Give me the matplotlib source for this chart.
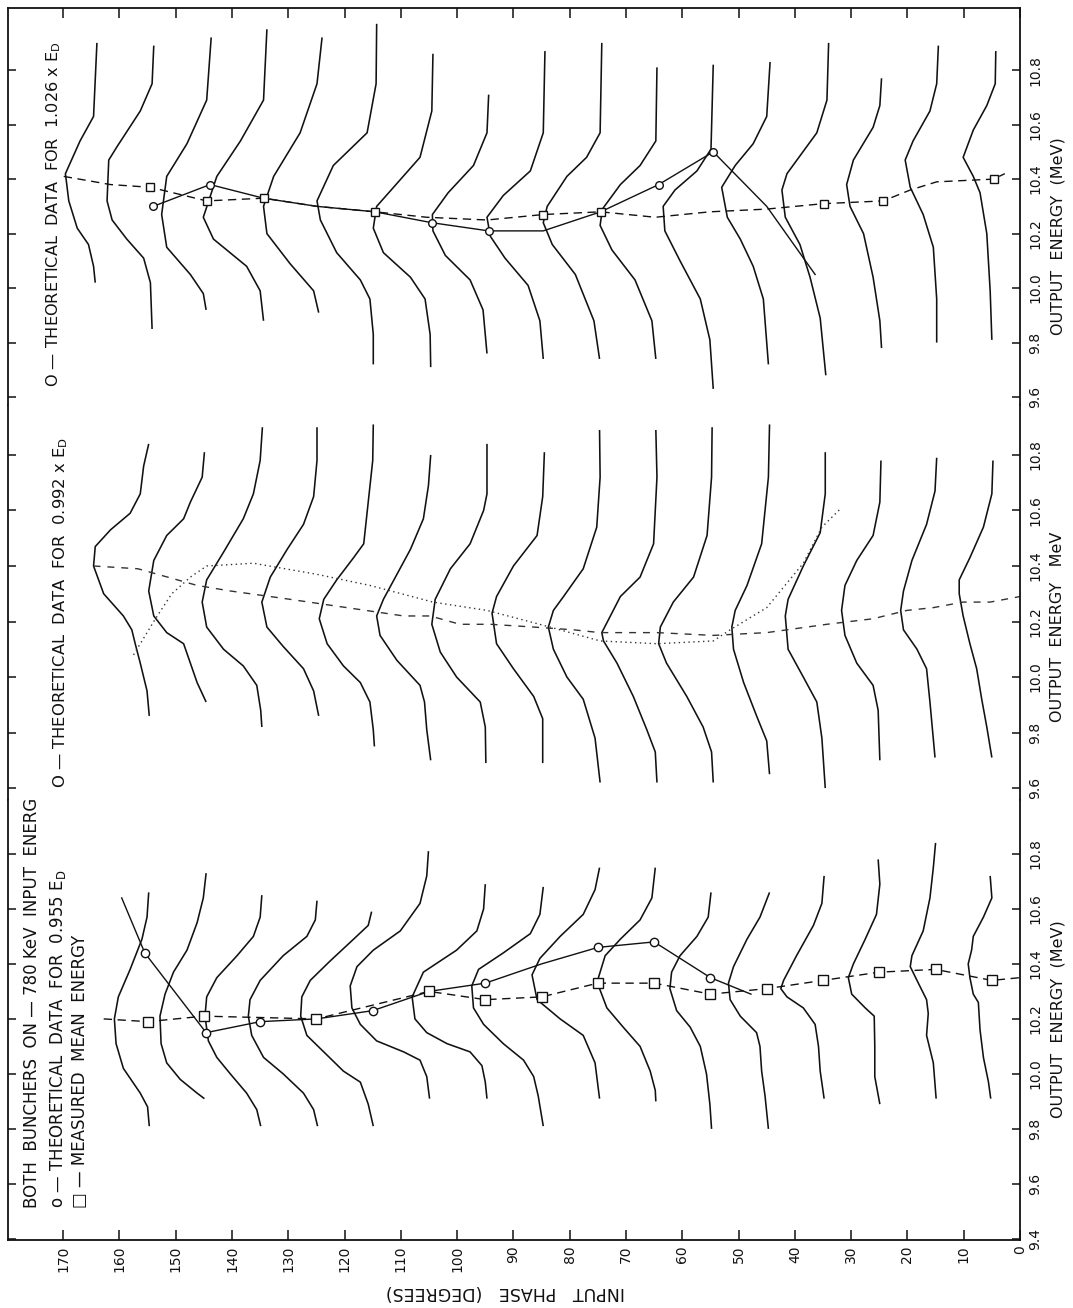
import matplotlib
matplotlib.use("Agg")
import matplotlib.pyplot as plt
import numpy as np

plt.rcParams['font.family'] = ['DejaVu Sans']

# ---------------- axes values ----------------
phase_ticks = list(range(0, 171, 10))
energy_ticks_top = [9.6, 9.8, 10.0, 10.2, 10.4, 10.6, 10.8]
energy_ticks_bot = [9.4, 9.6, 9.8, 10.0, 10.2, 10.4, 10.6, 10.8]

# ---------------- bottom panel (0.955 E_D) : energy curves ----------------
b01_phase = [154.8, 155.1, 156.0, 158.1, 160.2, 160.9, 160.6, 159.3, 156.3, 155.0, 154.7]
b01_energy = [10.66, 10.57, 10.49, 10.38, 10.28, 10.20, 10.11, 10.02, 9.93, 9.88, 9.81]
b02_phase = [144.6, 145.1, 146.2, 148.0, 150.4, 151.9, 152.8, 152.6, 151.6, 149.2, 146.2, 144.9]
b02_energy = [10.73, 10.64, 10.55, 10.45, 10.37, 10.29, 10.21, 10.11, 10.04, 9.98, 9.93, 9.91]
b03_phase = [134.7, 135.0, 136.2, 139.1, 142.7, 144.5, 144.8, 144.2, 142.7, 140.3, 137.4, 135.6, 134.9]
b03_energy = [10.65, 10.57, 10.50, 10.43, 10.35, 10.28, 10.21, 10.12, 10.06, 10.00, 9.93, 9.87, 9.81]
b04_phase = [124.9, 125.2, 126.7, 130.9, 135.0, 136.8, 137.1, 136.5, 134.4, 130.9, 127.3, 125.5, 124.8]
b04_energy = [10.63, 10.56, 10.50, 10.43, 10.34, 10.27, 10.21, 10.14, 10.06, 10.00, 9.93, 9.87, 9.81]
b05_phase = [115.2, 115.8, 118.4, 122.6, 126.1, 127.6, 127.8, 126.7, 123.7, 120.2, 117.2, 115.8, 114.9]
b05_energy = [10.59, 10.54, 10.49, 10.41, 10.34, 10.28, 10.21, 10.14, 10.08, 10.01, 9.97, 9.89, 9.81]
b06_phase = [105.1, 105.4, 106.6, 110.1, 114.9, 117.8, 119.0, 118.7, 117.2, 114.3, 109.5, 106.6, 105.4, 104.9]
b06_energy = [10.81, 10.72, 10.62, 10.52, 10.45, 10.39, 10.32, 10.24, 10.18, 10.12, 10.08, 10.05, 9.99, 9.91]
b07_phase = [95.0, 95.3, 96.5, 100.1, 106.0, 108.0, 107.5, 105.4, 101.8, 97.7, 95.6, 95.0, 94.7]
b07_energy = [10.69, 10.60, 10.52, 10.45, 10.37, 10.28, 10.20, 10.15, 10.11, 10.08, 10.03, 9.97, 9.91]
b08_phase = [84.7, 85.3, 87.0, 91.8, 96.2, 97.4, 97.1, 95.3, 91.8, 88.2, 86.4, 85.6, 84.7]
b08_energy = [10.68, 10.58, 10.51, 10.44, 10.38, 10.32, 10.24, 10.18, 10.11, 10.05, 9.99, 9.92, 9.81]
b09_phase = [74.7, 75.5, 77.6, 81.7, 85.3, 86.7, 85.8, 81.7, 77.6, 75.5, 74.7]
b09_energy = [10.75, 10.67, 10.58, 10.50, 10.42, 10.36, 10.27, 10.20, 10.14, 10.04, 9.91]
b10_phase = [64.8, 65.4, 67.5, 71.0, 73.7, 74.9, 74.7, 73.4, 70.5, 67.5, 65.7, 64.8, 64.7]
b10_energy = [10.75, 10.64, 10.56, 10.49, 10.43, 10.35, 10.31, 10.24, 10.17, 10.10, 10.01, 9.94, 9.90]
b11_phase = [54.9, 55.4, 57.4, 60.4, 61.9, 62.2, 61.0, 58.6, 56.8, 55.7, 55.1, 54.8]
b11_energy = [10.66, 10.57, 10.50, 10.43, 10.37, 10.31, 10.23, 10.17, 10.10, 10.00, 9.89, 9.80]
b12_phase = [44.5, 46.2, 48.5, 50.9, 51.8, 51.5, 49.7, 46.8, 46.2, 45.9, 45.3, 44.7]
b12_energy = [10.66, 10.57, 10.49, 10.39, 10.33, 10.27, 10.21, 10.15, 10.10, 10.01, 9.92, 9.80]
b13_phase = [34.8, 35.2, 36.7, 39.7, 42.0, 42.5, 41.4, 38.5, 36.4, 35.8, 35.5, 34.8]
b13_energy = [10.72, 10.62, 10.54, 10.43, 10.34, 10.31, 10.28, 10.24, 10.18, 10.10, 10.01, 9.91]
b14_phase = [25.2, 24.9, 25.5, 27.5, 29.6, 30.5, 29.9, 27.5, 25.9, 25.8, 25.8, 24.9]
b14_energy = [10.78, 10.69, 10.58, 10.49, 10.40, 10.35, 10.29, 10.24, 10.21, 10.10, 9.99, 9.89]
b15_phase = [15.0, 15.4, 16.0, 17.2, 19.2, 19.5, 18.3, 16.6, 16.3, 16.6, 15.4, 14.9]
b15_energy = [10.84, 10.75, 10.64, 10.52, 10.43, 10.39, 10.34, 10.27, 10.22, 10.14, 10.04, 9.91]
b16_phase = [5.3, 5.0, 6.5, 8.3, 8.6, 9.2, 8.9, 8.3, 7.4, 7.1, 6.5, 5.6, 5.2]
b16_energy = [10.72, 10.64, 10.57, 10.50, 10.45, 10.40, 10.35, 10.29, 10.26, 10.16, 10.06, 9.97, 9.91]

# bottom panel: theoretical mean (circles) and measured mean (squares)
bot_theory_phase = [159.6, 155.5, 144.6, 135.0, 125.0, 115.0, 105.0, 95.0, 85.0, 75.0, 65.0, 55.0, 47.8]
bot_theory_energy = [10.64, 10.44, 10.15, 10.19, 10.20, 10.23, 10.30, 10.33, 10.40, 10.46, 10.48, 10.35, 10.29]
bot_theory_marked = [155.5, 144.6, 135.0, 115.0, 95.0, 75.0, 65.0, 55.0]
bot_meas_phase = [162.8, 155.0, 145.0, 125.0, 105.0, 95.0, 85.0, 75.0, 65.0, 55.0, 45.0, 35.0, 25.0, 15.0, 5.0, 0.0]
bot_meas_energy = [10.20, 10.19, 10.21, 10.20, 10.30, 10.27, 10.28, 10.33, 10.33, 10.29, 10.31, 10.34, 10.37, 10.38, 10.34, 10.35]

# ---------------- middle panel (0.992 E_D) ----------------
m01_phase = [154.8, 155.7, 156.3, 158.1, 161.6, 164.3, 164.6, 162.8, 159.3, 157.8, 157.2, 156.3, 155.1, 154.7]
m01_energy = [10.84, 10.76, 10.66, 10.59, 10.53, 10.47, 10.40, 10.30, 10.22, 10.17, 10.12, 10.05, 9.95, 9.86]
m02_phase = [144.9, 145.3, 147.4, 148.6, 151.6, 153.9, 154.8, 153.9, 151.6, 148.6, 147.4, 146.2, 144.6]
m02_energy = [10.81, 10.72, 10.63, 10.57, 10.51, 10.42, 10.31, 10.22, 10.16, 10.12, 10.05, 9.98, 9.91]
m03_phase = [134.6, 135.0, 136.2, 138.0, 141.5, 144.5, 145.3, 144.5, 141.5, 138.0, 135.6, 134.9, 134.7]
m03_energy = [10.90, 10.78, 10.66, 10.57, 10.45, 10.35, 10.27, 10.18, 10.10, 10.04, 9.97, 9.88, 9.82]
m04_phase = [124.9, 124.9, 125.5, 127.3, 130.2, 133.2, 134.7, 133.8, 130.9, 127.3, 125.5, 124.6]
m04_energy = [10.90, 10.78, 10.65, 10.55, 10.46, 10.36, 10.27, 10.18, 10.11, 10.03, 9.95, 9.86]
m05_phase = [114.9, 115.0, 115.8, 116.6, 118.4, 121.4, 123.7, 124.5, 123.1, 120.2, 117.2, 115.5, 114.9, 114.7]
m05_energy = [10.91, 10.78, 10.63, 10.48, 10.43, 10.35, 10.28, 10.21, 10.12, 10.04, 9.98, 9.91, 9.81, 9.75]
m06_phase = [104.7, 105.1, 106.0, 108.3, 110.7, 113.1, 114.3, 113.7, 110.7, 106.6, 105.8, 105.4, 104.7]
m06_energy = [10.80, 10.69, 10.57, 10.46, 10.37, 10.28, 10.22, 10.15, 10.06, 9.97, 9.91, 9.81, 9.70]
m07_phase = [94.7, 94.7, 95.3, 97.7, 101.2, 103.9, 104.5, 103.0, 100.1, 95.9, 95.0, 94.9]
m07_energy = [10.84, 10.66, 10.60, 10.48, 10.39, 10.28, 10.19, 10.09, 10.00, 9.91, 9.82, 9.69]
m08_phase = [84.5, 84.8, 85.8, 90.0, 93.0, 93.8, 93.0, 90.0, 86.4, 84.8, 84.8]
m08_energy = [10.81, 10.65, 10.51, 10.40, 10.29, 10.23, 10.12, 10.03, 9.93, 9.85, 9.69]
m09_phase = [74.7, 74.6, 75.2, 77.6, 81.1, 82.9, 83.8, 82.9, 80.5, 77.6, 75.5, 74.6]
m09_energy = [10.89, 10.72, 10.54, 10.39, 10.29, 10.24, 10.18, 10.10, 10.00, 9.92, 9.78, 9.62]
m10_phase = [64.7, 64.5, 65.1, 67.5, 71.0, 74.3, 74.0, 71.6, 68.7, 66.3, 64.8, 64.5]
m10_energy = [10.89, 10.72, 10.48, 10.36, 10.29, 10.16, 10.13, 10.05, 9.93, 9.81, 9.73, 9.62]
m11_phase = [54.7, 54.8, 55.6, 58.0, 61.6, 63.9, 64.2, 62.8, 59.2, 56.3, 54.8, 54.5]
m11_energy = [10.90, 10.72, 10.51, 10.36, 10.27, 10.18, 10.12, 10.05, 9.93, 9.82, 9.73, 9.62]
m12_phase = [44.5, 44.7, 45.9, 48.5, 50.6, 51.2, 50.9, 49.1, 46.8, 45.0, 44.5]
m12_energy = [10.91, 10.72, 10.48, 10.33, 10.24, 10.18, 10.10, 9.98, 9.86, 9.77, 9.65]
m13_phase = [34.6, 34.6, 35.5, 38.5, 41.2, 41.7, 41.2, 38.5, 36.1, 35.2, 34.6]
m13_energy = [10.81, 10.66, 10.52, 10.40, 10.28, 10.22, 10.10, 10.00, 9.91, 9.78, 9.60]
m14_phase = [24.7, 24.9, 26.1, 29.0, 31.1, 31.7, 31.1, 29.0, 26.1, 25.2, 24.9]
m14_energy = [10.78, 10.63, 10.51, 10.42, 10.33, 10.24, 10.15, 10.05, 9.97, 9.88, 9.70]
m15_phase = [14.8, 15.1, 16.6, 19.2, 20.7, 21.2, 20.7, 18.3, 16.6, 16.0, 15.1]
m15_energy = [10.79, 10.67, 10.55, 10.42, 10.31, 10.24, 10.17, 10.10, 10.03, 9.91, 9.71]
m16_phase = [4.8, 5.0, 6.5, 8.9, 10.8, 10.8, 10.1, 8.9, 7.7, 6.8, 5.9, 5.0]
m16_energy = [10.78, 10.66, 10.54, 10.43, 10.35, 10.30, 10.22, 10.12, 10.03, 9.92, 9.82, 9.71]

mid_meas_phase = [164.6, 156.7, 146.2, 140.3, 129.7, 119.6, 109.5, 104.8, 99.5, 94.1, 86.4, 79.3,
                  74.6, 64.5, 54.5, 45.0, 34.3, 26.1, 20.1, 15.4, 10.1, 5.3, 0.0]
mid_meas_energy = [10.40, 10.39, 10.33, 10.31, 10.28, 10.25, 10.22, 10.22, 10.19, 10.19, 10.18, 10.17,
                   10.16, 10.16, 10.15, 10.16, 10.19, 10.21, 10.24, 10.25, 10.27, 10.27, 10.29]
mid_theory_phase = [157.5, 153.6, 150.7, 147.4, 144.5, 136.2, 124.9, 115.5, 104.3, 94.7, 83.5, 74.6,
                    64.5, 54.5, 51.5, 45.0, 38.5, 35.2, 31.7]
mid_theory_energy = [10.08, 10.21, 10.30, 10.36, 10.40, 10.41, 10.37, 10.33, 10.27, 10.24, 10.18, 10.13,
                     10.12, 10.13, 10.17, 10.25, 10.41, 10.54, 10.61]

# ---------------- top panel (1.026 E_D) ----------------
t01_phase = [164.0, 164.6, 167.0, 169.6, 169.0, 167.5, 165.5, 164.6, 164.3]
t01_energy = [10.90, 10.63, 10.54, 10.42, 10.32, 10.22, 10.16, 10.08, 10.02]
t02_phase = [153.9, 154.2, 156.3, 160.4, 161.9, 162.2, 161.3, 158.7, 155.7, 154.5, 154.2]
t02_energy = [10.89, 10.75, 10.65, 10.52, 10.47, 10.32, 10.25, 10.18, 10.11, 10.02, 9.85]
t03_phase = [143.7, 144.5, 148.0, 151.6, 152.5, 151.6, 147.4, 145.1, 144.6]
t03_energy = [10.92, 10.69, 10.53, 10.41, 10.27, 10.15, 10.05, 9.98, 9.92]
t04_phase = [133.8, 134.4, 138.5, 142.7, 145.1, 143.3, 137.4, 135.0, 134.4]
t04_energy = [10.95, 10.69, 10.54, 10.41, 10.26, 10.18, 10.08, 9.99, 9.88]
t05_phase = [124.0, 124.9, 127.9, 132.6, 134.4, 133.8, 129.7, 125.5, 124.6]
t05_energy = [10.92, 10.75, 10.57, 10.41, 10.30, 10.20, 10.09, 9.99, 9.91]
t06_phase = [114.3, 114.4, 116.0, 122.0, 124.9, 124.3, 121.4, 117.2, 115.5, 114.9, 114.9]
t06_energy = [10.97, 10.75, 10.57, 10.45, 10.32, 10.25, 10.13, 10.03, 9.96, 9.83, 9.72]
t07_phase = [104.3, 104.5, 106.6, 111.3, 114.3, 114.9, 113.1, 108.3, 105.7, 104.8, 104.7]
t07_energy = [10.86, 10.65, 10.48, 10.37, 10.30, 10.22, 10.13, 10.04, 9.96, 9.83, 9.71]
t08_phase = [94.4, 94.7, 97.1, 101.6, 104.4, 104.3, 102.1, 97.7, 95.4, 94.7]
t08_energy = [10.71, 10.57, 10.45, 10.35, 10.27, 10.21, 10.12, 10.03, 9.92, 9.76]
t09_phase = [84.4, 84.7, 87.0, 91.8, 94.7, 94.1, 91.5, 87.4, 85.3, 84.7]
t09_energy = [10.87, 10.57, 10.43, 10.34, 10.26, 10.19, 10.11, 10.01, 9.88, 9.74]
t10_phase = [74.3, 74.6, 77.0, 80.5, 84.0, 84.7, 83.1, 79.0, 75.7, 74.7]
t10_energy = [10.90, 10.57, 10.48, 10.41, 10.30, 10.24, 10.16, 10.05, 9.88, 9.74]
t11_phase = [64.5, 64.7, 67.5, 71.0, 74.2, 74.6, 72.5, 68.4, 65.4, 64.7]
t11_energy = [10.81, 10.54, 10.45, 10.38, 10.29, 10.23, 10.14, 10.03, 9.88, 9.74]
t12_phase = [54.5, 54.9, 57.4, 61.3, 63.4, 63.1, 60.4, 56.8, 55.1, 54.5]
t12_energy = [10.82, 10.51, 10.43, 10.36, 10.30, 10.21, 10.10, 9.96, 9.81, 9.63]
t13_phase = [44.4, 45.0, 47.4, 50.6, 53.0, 52.0, 49.7, 47.4, 45.6, 44.7]
t13_energy = [10.83, 10.63, 10.53, 10.45, 10.37, 10.26, 10.18, 10.08, 9.96, 9.72]
t14_phase = [34.0, 34.3, 36.1, 41.4, 42.3, 41.7, 39.1, 37.3, 35.5, 34.5]
t14_energy = [10.90, 10.69, 10.57, 10.42, 10.36, 10.26, 10.16, 10.04, 9.89, 9.68]
t15_phase = [24.6, 24.9, 26.1, 29.6, 30.8, 30.2, 27.8, 26.1, 24.9, 24.6]
t15_energy = [10.77, 10.67, 10.59, 10.47, 10.38, 10.30, 10.20, 10.04, 9.88, 9.78]
t16_phase = [14.5, 14.8, 16.0, 19.0, 20.4, 19.5, 17.2, 15.4, 14.8, 14.8]
t16_energy = [10.89, 10.75, 10.65, 10.54, 10.47, 10.37, 10.27, 10.15, 9.96, 9.80]
t17_phase = [4.3, 4.4, 5.9, 8.3, 10.1, 8.3, 7.1, 5.9, 5.3, 5.0]
t17_energy = [10.87, 10.75, 10.67, 10.58, 10.48, 10.41, 10.35, 10.20, 9.99, 9.81]

top_meas_phase = [169.9, 161.6, 154.5, 144.5, 134.4, 124.9, 114.6, 105.4, 94.7, 84.7, 74.5, 64.8,
                  55.1, 45.0, 34.9, 24.3, 19.5, 14.8, 4.7, 2.7]
top_meas_energy = [10.41, 10.38, 10.37, 10.32, 10.33, 10.30, 10.28, 10.26, 10.25, 10.27, 10.28, 10.26,
                   10.28, 10.29, 10.31, 10.32, 10.36, 10.39, 10.40, 10.42]
top_meas_marked = [154.5, 144.5, 134.4, 114.6, 84.7, 74.5, 34.9, 24.3, 4.7]
top_theory_phase = [154.0, 143.9, 134.4, 124.9, 114.6, 104.5, 94.4, 84.7, 74.5, 64.2, 54.5, 45.0, 36.4]
top_theory_energy = [10.30, 10.38, 10.33, 10.30, 10.28, 10.24, 10.21, 10.21, 10.28, 10.38, 10.50, 10.30, 10.05]
top_theory_marked = [154.0, 143.9, 104.5, 94.4, 64.2, 54.5]

bottom_curves = [(b01_phase, b01_energy), (b02_phase, b02_energy), (b03_phase, b03_energy),
                 (b04_phase, b04_energy), (b05_phase, b05_energy), (b06_phase, b06_energy),
                 (b07_phase, b07_energy), (b08_phase, b08_energy), (b09_phase, b09_energy),
                 (b10_phase, b10_energy), (b11_phase, b11_energy), (b12_phase, b12_energy),
                 (b13_phase, b13_energy), (b14_phase, b14_energy), (b15_phase, b15_energy),
                 (b16_phase, b16_energy)]
middle_curves = [(m01_phase, m01_energy), (m02_phase, m02_energy), (m03_phase, m03_energy),
                 (m04_phase, m04_energy), (m05_phase, m05_energy), (m06_phase, m06_energy),
                 (m07_phase, m07_energy), (m08_phase, m08_energy), (m09_phase, m09_energy),
                 (m10_phase, m10_energy), (m11_phase, m11_energy), (m12_phase, m12_energy),
                 (m13_phase, m13_energy), (m14_phase, m14_energy), (m15_phase, m15_energy),
                 (m16_phase, m16_energy)]
top_curves = [(t01_phase, t01_energy), (t02_phase, t02_energy), (t03_phase, t03_energy),
              (t04_phase, t04_energy), (t05_phase, t05_energy), (t06_phase, t06_energy),
              (t07_phase, t07_energy), (t08_phase, t08_energy), (t09_phase, t09_energy),
              (t10_phase, t10_energy), (t11_phase, t11_energy), (t12_phase, t12_energy),
              (t13_phase, t13_energy), (t14_phase, t14_energy), (t15_phase, t15_energy),
              (t16_phase, t16_energy), (t17_phase, t17_energy)]

# ---------------- figure ----------------
W, H = 1073, 1308
fig = plt.figure(figsize=(W / 100, H / 100), dpi=100)
fig.patch.set_facecolor('white')


def rect(x0, y0, x1, y1):
    return [x0 / W, 1 - y1 / H, (x1 - x0) / W, (y1 - y0) / H]


ax_top = fig.add_axes(rect(8, 8, 1020, 405))
ax_mid = fig.add_axes(rect(8, 405, 1020, 800))
ax_bot = fig.add_axes(rect(8, 800, 1020, 1240))

ax_top.set_ylim(9.571, 11.028)
ax_mid.set_ylim(9.557, 10.98)
ax_bot.set_ylim(9.396, 10.996)

INK = '#111111'

for ax, eticks in ((ax_top, energy_ticks_top), (ax_mid, energy_ticks_top), (ax_bot, energy_ticks_bot)):
    ax.set_xlim(179.8, 0)
    ax.set_facecolor('white')
    ax.set_xticks(phase_ticks)
    ax.set_yticks(eticks)
    ax.set_yticklabels(['%.1f' % e for e in eticks])
    ax.tick_params(axis='y', direction='in', length=6, width=1.1, left=True, right=True,
                   labelleft=False, labelright=True, labelsize=10, pad=6, colors=INK)
    for lab in ax.get_yticklabels():
        lab.set_rotation(90)
        lab.set_va('center')
        lab.set_ha('left')
    for s in ax.spines.values():
        s.set_linewidth(1.3)
        s.set_color(INK)

# x axis handling per panel
ax_top.tick_params(axis='x', direction='in', length=7, width=1.1, top=True, bottom=False,
                   labeltop=False, labelbottom=False, colors=INK)
ax_top.spines['bottom'].set_visible(False)
ax_mid.tick_params(axis='x', top=False, bottom=False, labeltop=False, labelbottom=False)
ax_mid.spines['bottom'].set_visible(False)
ax_mid.spines['top'].set_visible(False)
ax_bot.spines['top'].set_visible(False)
ax_bot.tick_params(axis='x', direction='in', length=7, width=1.1, top=False, bottom=True,
                   labelbottom=True, labelsize=10, pad=4, colors=INK)
ax_bot.set_xticklabels([str(p) for p in phase_ticks])
for lab in ax_bot.get_xticklabels():
    lab.set_rotation(90)
    lab.set_ha('center')
    lab.set_va('top')

# energy curves
for ax, curves in ((ax_top, top_curves), (ax_mid, middle_curves), (ax_bot, bottom_curves)):
    for ph, en in curves:
        ax.plot(ph, en, color=INK, lw=1.15, solid_joinstyle='round', solid_capstyle='butt')

# bottom panel mean-energy lines
ax_bot.plot(bot_meas_phase, bot_meas_energy, color=INK, lw=1.0, ls=(0, (6, 4)))
ax_bot.plot(bot_theory_phase, bot_theory_energy, color=INK, lw=1.0, ls='-')
bt_e = [bot_theory_energy[bot_theory_phase.index(p)] for p in bot_theory_marked]
ax_bot.plot(bot_theory_marked, bt_e, ls='none', marker='o', ms=6, mfc='white', mec=INK, mew=1.0)
ax_bot.plot(bot_meas_phase[1:-1], bot_meas_energy[1:-1], ls='none', marker='s', ms=6.5,
            mfc='white', mec=INK, mew=1.0)

# middle panel lines
ax_mid.plot(mid_meas_phase, mid_meas_energy, color='#333333', lw=1.0, ls=(0, (5, 5)))
ax_mid.plot(mid_theory_phase, mid_theory_energy, color='#333333', lw=1.0, ls=(0, (1, 2.5)))

# top panel lines
ax_top.plot(top_meas_phase, top_meas_energy, color=INK, lw=1.0, ls=(0, (6, 4)))
ax_top.plot(top_theory_phase, top_theory_energy, color=INK, lw=1.0, ls='-')
tm_e = [top_meas_energy[top_meas_phase.index(p)] for p in top_meas_marked]
ax_top.plot(top_meas_marked, tm_e, ls='none', marker='s', ms=6, mfc='white', mec=INK, mew=1.0)
tt_e = [top_theory_energy[top_theory_phase.index(p)] for p in top_theory_marked]
ax_top.plot(top_theory_marked, tt_e, ls='none', marker='o', ms=5.5, mfc='white', mec=INK, mew=1.0)

# ---------------- texts ----------------
tkw = dict(rotation=90, rotation_mode='anchor', ha='left', va='center', color=INK)
ax_bot.text(0.0240, 0.073, 'BOTH  BUNCHERS  ON \u2014 780 KeV  INPUT  ENERGY',
            transform=ax_bot.transAxes, clip_on=True, fontsize=12, **tkw)
ax_bot.text(0.0490, 0.073, 'o \u2014 THEORETICAL  DATA  FOR  0.955 E$_{\\mathrm{D}}$',
            transform=ax_bot.transAxes, fontsize=12, **tkw)
ax_bot.text(0.0715, 0.073, '\u25a1 \u2014 MEASURED  MEAN  ENERGY',
            transform=ax_bot.transAxes, fontsize=12, **tkw)
ax_mid.text(0.0520, 0.030, 'O \u2014 THEORETICAL  DATA  FOR  0.992 x E$_{\\mathrm{D}}$',
            transform=ax_mid.transAxes, fontsize=11.8, **tkw)
ax_top.text(0.0450, 0.045, 'O \u2014 THEORETICAL  DATA  FOR  1.026 x E$_{\\mathrm{D}}$',
            transform=ax_top.transAxes, fontsize=11.6, **tkw)

lkw = dict(rotation=90, ha='center', va='center', color=INK, fontsize=11.5, clip_on=False)
ax_top.text(1.0375, 0.426, 'OUTPUT  ENERGY  (MeV)', transform=ax_top.transAxes, **lkw)
ax_mid.text(1.0375, 0.438, 'OUTPUT  ENERGY   MeV', transform=ax_mid.transAxes, **lkw)
ax_bot.text(1.0375, 0.502, 'OUTPUT  ENERGY  (MeV)', transform=ax_bot.transAxes, **lkw)

fig.text(505 / W, 1 - 1292 / H, 'INPUT   PHASE   (DEGREES)', rotation=180, ha='center',
         va='center', fontsize=12.5, color=INK)

fig.savefig('out.png', dpi=100, facecolor='white')
